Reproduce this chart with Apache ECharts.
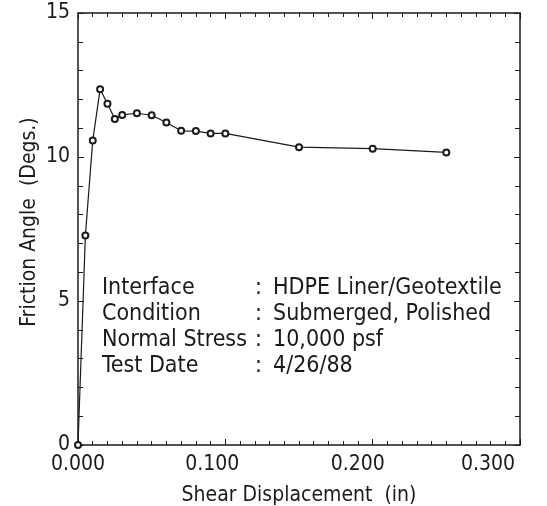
<!DOCTYPE html>
<html>
<head>
<meta charset="utf-8">
<script src="https://cdn.jsdelivr.net/npm/echarts@6/dist/echarts.min.js"></script>
<style>
html,body{margin:0;padding:0;background:#fff;}
#chart{width:547px;height:506px;}
</style>
</head>
<body>
<div id="chart"></div>
<script>
// Data
const displacement = [0, 0.005, 0.01, 0.015, 0.02, 0.025, 0.03, 0.04, 0.05, 0.06, 0.07, 0.08, 0.09, 0.10, 0.15, 0.20, 0.25];
const frictionAngle = [0, 7.27, 10.57, 12.35, 11.85, 11.32, 11.46, 11.52, 11.45, 11.2, 10.91, 10.9, 10.82, 10.82, 10.34, 10.29, 10.16];
const xTickLabels = ['0.000', '0.100', '0.200', '0.300'];
const yTickLabels = ['0', '5', '10', '15'];
const infoLabels = ['Interface', 'Condition', 'Normal Stress', 'Test Date'];
const infoValues = ['HDPE Liner/Geotextile', 'Submerged, Polished', '10,000 psf', '4/26/88'];
const xTitle = 'Shear Displacement  (in)';
const yTitle = 'Friction Angle  (Degs.)';

const FONT = '"Liberation Sans Narrow","DejaVu Sans Condensed","Liberation Sans",sans-serif';
const INK = '#1a1a1a';

const chart = echarts.init(document.getElementById('chart'));

const axisLine = {show: true, onZero: false, lineStyle: {color: INK, width: 1.5}};
const tick = {show: true, inside: true, length: 6, lineStyle: {color: INK, width: 1}};

const infoGraphics = [];
infoLabels.forEach((t, i) => {
  const y = 290 + i * 26;
  const font = '23px ' + FONT;
  infoGraphics.push({type: 'text', left: 102, top: y - 13, style: {text: t, font: font, fill: INK}});
  infoGraphics.push({type: 'text', left: 255, top: y - 13, style: {text: ':', font: font, fill: INK}});
  infoGraphics.push({type: 'text', left: 273, top: y - 13, style: {text: infoValues[i], font: font, fill: INK}});
});

const xShift = {'0.000': 0, '0.100': 26, '0.200': 30, '0.300': 64};
const xRich = {};
xTickLabels.forEach((l, i) => {
  xRich['r' + i] = {fontFamily: FONT, fontSize: 21, color: INK, padding: [0, xShift[l], 0, 0]};
});

chart.setOption({
  animation: false,
  backgroundColor: '#fff',
  grid: {left: 78, right: 27, top: 13, bottom: 61, containLabel: false, outerBoundsMode: 'none'},
  xAxis: [{
    type: 'value', min: 0, max: 0.3, interval: 0.1, position: 'bottom',
    axisLine: axisLine, splitLine: {show: false},
    axisTick: tick,
    minorTick: {show: true, splitNumber: 10, length: 4, lineStyle: {color: INK, width: 1}},
    axisLabel: {
      margin: 9,
      formatter: v => {
        const s = v.toFixed(3);
        const i = xTickLabels.indexOf(s);
        return i >= 0 ? '{r' + i + '|' + xTickLabels[i] + '}' : '';
      },
      rich: xRich
    },
    name: xTitle, nameLocation: 'middle', nameGap: 40, nameMoveOverlap: false,
    nameTextStyle: {fontFamily: FONT, fontSize: 21, color: INK}
  }, {
    type: 'value', min: 0, max: 0.3, interval: 0.1, position: 'top',
    axisLine: axisLine, splitLine: {show: false},
    axisTick: tick,
    minorTick: {show: true, splitNumber: 10, length: 4, lineStyle: {color: INK, width: 1}},
    axisLabel: {show: false}
  }],
  yAxis: [{
    type: 'value', min: 0, max: 15, interval: 5, position: 'left',
    axisLine: axisLine, splitLine: {show: false},
    axisTick: tick,
    minorTick: {show: true, splitNumber: 5, length: 5, lineStyle: {color: INK, width: 1}},
    axisLabel: {
      margin: 8, fontFamily: FONT, fontSize: 21, color: INK,
      formatter: v => { const i = yTickLabels.indexOf(String(v)); return i >= 0 ? yTickLabels[i] : ''; }
    },
    name: yTitle, nameLocation: 'middle', nameGap: 38, nameMoveOverlap: false,
    nameTextStyle: {fontFamily: FONT, fontSize: 21, color: INK, padding: [0, 0, 0, 14]}
  }, {
    type: 'value', min: 0, max: 15, interval: 5, position: 'right',
    axisLine: axisLine, splitLine: {show: false},
    axisTick: tick,
    minorTick: {show: true, splitNumber: 5, length: 5, lineStyle: {color: INK, width: 1}},
    axisLabel: {show: false}
  }],
  series: [{
    type: 'line',
    xAxisIndex: 0, yAxisIndex: 0,
    data: displacement.map((x, i) => [x, frictionAngle[i]]),
    symbol: 'emptyCircle', symbolSize: 6,
    lineStyle: {color: INK, width: 1.2},
    itemStyle: {color: INK, borderWidth: 1.2},
    z: 3
  }],
  graphic: infoGraphics
});
</script>
</body>
</html>
